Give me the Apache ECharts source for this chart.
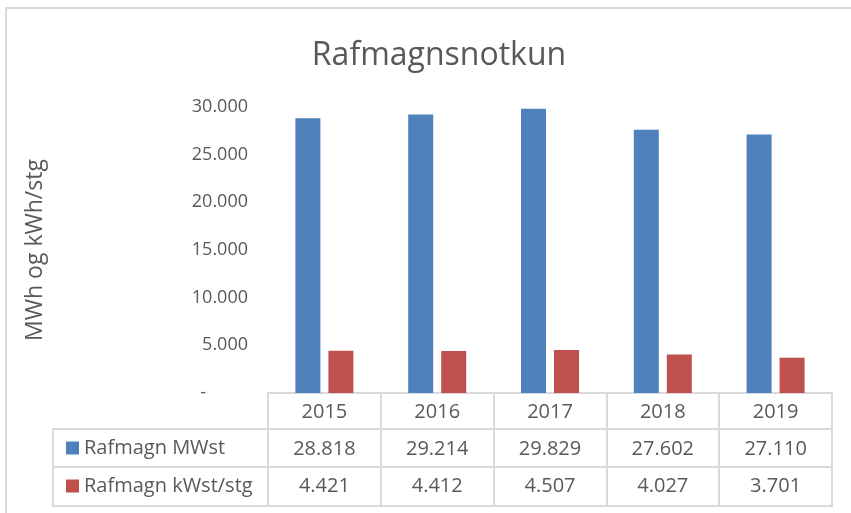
<!DOCTYPE html>
<html>
<head>
<meta charset="utf-8">
<script src="https://cdn.jsdelivr.net/npm/echarts@6/dist/echarts.min.js"></script>
<style>
  html, body { margin: 0; padding: 0; background: #fff; }
  #chart { width: 851px; height: 513px; }
</style>
</head>
<body>
<div id="chart"></div>
<script>
const years = ["2015", "2016", "2017", "2018", "2019"];
const mwstValues = [28818, 29214, 29829, 27602, 27110];
const kwstValues = [4421, 4412, 4507, 4027, 3701];
const seriesNames = ["Rafmagn MWst", "Rafmagn kWst/stg"];
const yTicks = [0, 5000, 10000, 15000, 20000, 25000, 30000];

const FONT = "Open Sans";
const TEXT = "#595959";
const BORDER = "#d9d9d9";

// grid box (plot area), table rows hang below it
const GRID = { left: 268, right: 19, top: 107, bottom: 120 };
const ROW_H = [36, 38, 39];
const LEGEND_LEFT = 53;

function fmt(v) {
  if (v === 0) return "-";
  return String(Math.round(v)).replace(/\B(?=(\d{3})+(?!\d))/g, ".");
}

const chart = echarts.init(document.getElementById("chart"), null, { renderer: "canvas" });

const width = 851;
const height = 513;
const baseY = height - GRID.bottom;
const tableRight = width - GRID.right;
const row2Y = baseY + ROW_H[0];
const row3Y = row2Y + ROW_H[1];
const tableBottom = row3Y + ROW_H[2];

chart.setOption({
  backgroundColor: "#fff",
  animation: false,
  textStyle: { fontFamily: FONT },
  title: {
    text: "Rafmagnsnotkun",
    left: 434,
    top: 35,
    textAlign: "center",
    textStyle: { color: TEXT, fontSize: 32, fontWeight: "normal", fontFamily: FONT },
  },
  legend: {
    orient: "vertical",
    left: LEGEND_LEFT + 8,
    top: row2Y + 3,
    itemWidth: 13,
    itemHeight: 13,
    itemGap: 16,
    icon: "rect",
    selectedMode: false,
    textStyle: { color: TEXT, fontSize: 20, lineHeight: 22, fontFamily: FONT },
    data: seriesNames,
  },
  grid: GRID,
  xAxis: [
    {
      type: "category",
      data: years,
      axisLine: { lineStyle: { color: BORDER, width: 2 } },
      axisTick: { show: true, interval: 0, alignWithLabel: false, length: tableBottom - baseY, lineStyle: { color: BORDER, width: 2 } },
      axisLabel: { color: TEXT, fontSize: 20, margin: 9, fontFamily: FONT },
    },
    {
      type: "category",
      data: mwstValues.map(fmt),
      position: "bottom",
      offset: ROW_H[0],
      axisLine: { show: false },
      axisTick: { show: false },
      axisLabel: { color: TEXT, fontSize: 20, margin: 10, fontFamily: FONT },
    },
    {
      type: "category",
      data: kwstValues.map(fmt),
      position: "bottom",
      offset: ROW_H[0] + ROW_H[1],
      axisLine: { show: false },
      axisTick: { show: false },
      axisLabel: { color: TEXT, fontSize: 20, margin: 9, fontFamily: FONT },
    },
  ],
  yAxis: {
    type: "value",
    min: yTicks[0],
    max: yTicks[yTicks.length - 1],
    interval: yTicks[1] - yTicks[0],
    name: "MWh og kWh/stg",
    nameLocation: "middle",
    nameRotate: 90,
    nameGap: 221,
    nameTextStyle: { color: TEXT, fontSize: 23, fontFamily: FONT },
    axisLine: { show: false },
    axisTick: { show: false },
    splitLine: { show: false },
    axisLabel: {
      color: TEXT,
      fontSize: 18,
      margin: 20,
      fontFamily: FONT,
      formatter: (v) => (v === 0 ? "{z|-}" : fmt(v)),
      rich: { z: { color: TEXT, fontSize: 18, padding: [0, 42, 0, 0], fontFamily: FONT } },
    },
  },
  series: [
    {
      name: seriesNames[0],
      type: "bar",
      data: mwstValues,
      barWidth: 25,
      barGap: "32%",
      itemStyle: { color: "#4f81bd" },
    },
    {
      name: seriesNames[1],
      type: "bar",
      data: kwstValues,
      barWidth: 25,
      itemStyle: { color: "#c0504d" },
    },
  ],
  graphic: [
    {
      type: "rect",
      shape: { x: 6, y: 8, width: 900, height: 600 },
      style: { fill: null, stroke: BORDER, lineWidth: 2 },
      silent: true,
    },
    {
      type: "rect",
      shape: { x: LEGEND_LEFT, y: row2Y, width: tableRight - LEGEND_LEFT, height: tableBottom - row2Y },
      style: { fill: null, stroke: BORDER, lineWidth: 2 },
      silent: true,
    },
    {
      type: "line",
      shape: { x1: LEGEND_LEFT, y1: row3Y, x2: tableRight, y2: row3Y },
      style: { stroke: BORDER, lineWidth: 2 },
      silent: true,
    },
  ],
});
</script>
</body>
</html>
